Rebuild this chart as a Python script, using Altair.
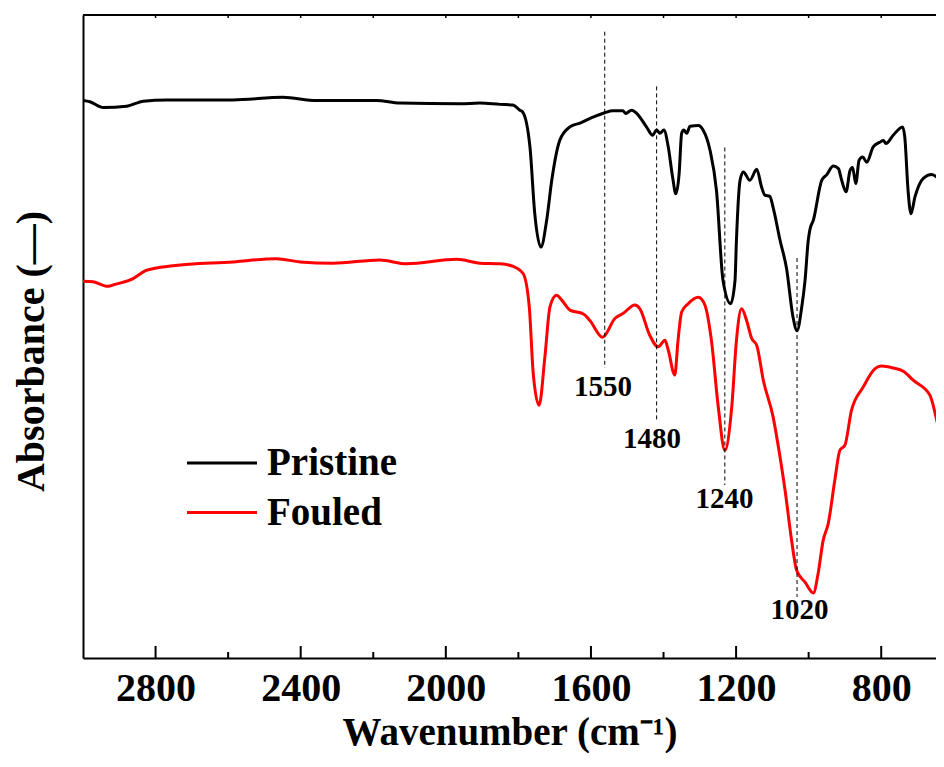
import altair as alt
import pandas as pd

FONT = "Liberation Serif"

# ---- spectra (wavenumber cm-1, absorbance a.u.) ----
wn_pristine = [3000, 2981, 2944, 2880, 2834, 2770, 2587, 2449, 2356, 2191, 2127, 1961, 1906, 1851,
               1815, 1796, 1788, 1768, 1755, 1738, 1722, 1708, 1686, 1658, 1630, 1595, 1562, 1540,
               1512, 1504, 1488, 1474, 1447, 1430, 1419, 1410, 1399, 1387, 1375, 1366, 1357, 1350,
               1344, 1336, 1327, 1304, 1291, 1272, 1254, 1236, 1215, 1203, 1199, 1189, 1180, 1162,
               1143, 1130, 1121, 1107, 1098, 1079, 1061, 1043, 1032, 1019, 1010, 1001, 997, 987,
               964, 951, 932, 918, 909, 897, 886, 879, 870, 861, 851, 840, 822, 804, 794, 787, 767,
               741, 735, 726, 718, 707, 684, 661, 647, 638, 627]
abs_pristine = [86.7, 86.5, 85.6, 85.8, 86.6, 86.8, 86.8, 87.2, 86.7, 86.7, 86.3, 86.2, 86.3, 86.1,
                86.0, 85.2, 84.9, 79.4, 69.2, 63.9, 68.1, 74.3, 80.5, 82.6, 83.2, 84.1, 84.8, 85.1,
                85.1, 84.7, 85.2, 84.7, 82.6, 81.3, 82.1, 81.6, 82.1, 79.5, 74.8, 72.2, 75.3, 81.6,
                82.1, 81.6, 82.7, 82.8, 82.1, 79.0, 72.7, 58.7, 55.1, 58.7, 65.0, 74.3, 75.6, 74.3,
                76.0, 73.3, 72.0, 71.8, 70.1, 65.0, 60.6, 53.0, 50.9, 54.6, 58.7, 65.0, 66.5, 68.1,
                74.3, 75.1, 76.5, 76.1, 74.3, 72.5, 75.8, 76.3, 73.8, 77.4, 77.9, 77.1, 79.5, 80.2,
                80.5, 80.0, 81.3, 82.6, 81.0, 72.7, 69.1, 71.7, 74.6, 75.2, 74.8, 74.3, 74.3]

wn_fouled = [3000, 2972, 2931, 2912, 2862, 2825, 2752, 2586, 2467, 2402, 2311, 2182, 2108, 1970,
             1906, 1851, 1814, 1787, 1770, 1759, 1743, 1727, 1713, 1695, 1681, 1658, 1621, 1603,
             1568, 1534, 1511, 1479, 1465, 1438, 1415, 1396, 1387, 1369, 1360, 1350, 1332, 1304,
             1286, 1268, 1249, 1231, 1212, 1199, 1185, 1171, 1157, 1143, 1125, 1098, 1079, 1065,
             1047, 1033, 1010, 987, 974, 960, 946, 928, 914, 900, 882, 850, 817, 799, 767, 739,
             712, 666, 647, 627]
abs_fouled = [58.6, 58.5, 57.8, 58.1, 59.0, 60.3, 61.0, 61.6, 62.1, 61.6, 61.4, 61.9, 61.3, 62.0,
              61.4, 61.3, 60.9, 59.8, 54.6, 44.2, 39.3, 46.8, 54.6, 56.4, 55.7, 54.1, 53.5, 52.5,
              49.9, 52.8, 53.6, 54.9, 54.3, 50.2, 48.4, 49.4, 47.9, 44.0, 49.4, 53.8, 55.1, 56.1,
              54.9, 49.4, 39.0, 32.3, 39.0, 49.4, 54.3, 52.5, 49.7, 48.6, 43.2, 37.5, 31.3, 26.1,
              18.3, 13.6, 11.8, 10.1, 13.1, 18.3, 20.9, 27.6, 32.3, 33.1, 38.5, 42.1, 45.0, 45.4,
              45.1, 44.6, 43.2, 40.9, 37.0, 31.8]

series_names = ["Pristine", "Fouled"]
series_colors = ["#000000", "#ff0000"]

# ---- axis ticks ----
x_ticks_major = [2800, 2400, 2000, 1600, 1200, 800]
x_ticks_minor = [2600, 2200, 1800, 1400, 1000]
x_ticks_top = [2800, 2600, 2400, 2200, 2000, 1800, 1600, 1400, 1200, 1000, 800]

# ---- peak annotations ----
peak_wn = [1562, 1419, 1231, 1032]
peak_top = [97.4, 88.9, 79.4, 62.2]
peak_bottom = [45.1, 36.7, 26.9, 9.5]
peak_labels = ["1550", "1480", "1240", "1020"]
label_wn = [1567, 1432, 1232, 1025]
label_abs = [42.1, 34.1, 24.8, 7.5]

W, H = 853, 643

xscale = alt.Scale(domain=[3000, 649], nice=False, zero=False)
yscale = alt.Scale(domain=[0, 100], nice=False, zero=False)

xaxis = alt.Axis(values=x_ticks_major, format="d", labelFont=FONT, labelFontSize=40,
                 labelFontWeight="bold", labelColor="black", labelPadding=10,
                 ticks=False, tickSize=0, domainColor="black", domainWidth=2, grid=False,
                 labelFlush=False, labelOverlap=False,
                 title="Wavenumber (cm\u207b\u00b9)", titleFont=FONT, titleFontSize=39,
                 titleFontWeight="bold", titleColor="black", titleY=86,
                 titleBaseline="alphabetic")
yaxis = alt.Axis(labels=False, ticks=False, grid=False, domainColor="black", domainWidth=2,
                 title="Absorbance (\u2014)", titleFont=FONT, titleFontSize=40,
                 titleFontWeight="bold", titleColor="black", titleX=-40, titleY=336,
                 titleAngle=270, titleBaseline="alphabetic", titleAlign="center")


def X():
    return alt.X("w:Q", scale=xscale, axis=xaxis)


def Y():
    return alt.Y("v:Q", scale=yscale, axis=yaxis)


spec_df = pd.concat([
    pd.DataFrame({"w": wn_pristine, "v": abs_pristine, "s": series_names[0]}),
    pd.DataFrame({"w": wn_fouled, "v": abs_fouled, "s": series_names[1]}),
])

lines = alt.Chart(spec_df).mark_line(strokeWidth=3, interpolate="monotone", clip=True).encode(
    x=X(),
    y=Y(),
    color=alt.Color("s:N", scale=alt.Scale(domain=series_names, range=series_colors), legend=None),
    order=alt.Order("w:Q", sort="descending"),
)

peak_df = pd.DataFrame({"w": peak_wn, "v": peak_top, "v2": peak_bottom})
dashes = alt.Chart(peak_df).mark_rule(color="black", strokeWidth=1, strokeDash=[4, 3]).encode(
    x=X(), y=Y(), y2="v2:Q",
)

lab_df = pd.DataFrame({"w": label_wn, "v": label_abs, "t": peak_labels})
labels = alt.Chart(lab_df).mark_text(font=FONT, fontSize=29, fontWeight="bold", color="black",
                                     align="center", baseline="middle").encode(
    x=X(), y=Y(), text="t:N",
)

major = alt.Chart(pd.DataFrame({"w": x_ticks_major})).mark_rule(color="black", strokeWidth=2).encode(
    x=X(), y=alt.value(H), y2=alt.value(H - 12))
minor = alt.Chart(pd.DataFrame({"w": x_ticks_minor})).mark_rule(color="black", strokeWidth=2).encode(
    x=X(), y=alt.value(H), y2=alt.value(H - 6))
top = alt.Chart(pd.DataFrame({"w": x_ticks_top})).mark_rule(color="black", strokeWidth=1.5).encode(
    x=X(), y=alt.value(0), y2=alt.value(3))
top_border = alt.Chart(pd.DataFrame({"w": [0]})).mark_rule(color="black", strokeWidth=2).encode(
    x=alt.value(0), x2=alt.value(W), y=alt.value(0))

legend_layers = []
leg_y = [448, 497.5]
for name, col, ly in zip(series_names, series_colors, leg_y):
    d = pd.DataFrame({"s": [name]})
    legend_layers.append(alt.Chart(d).mark_rule(color=col, strokeWidth=3).encode(
        x=alt.value(104), x2=alt.value(174), y=alt.value(ly)))
    legend_layers.append(alt.Chart(d).mark_text(font=FONT, fontSize=39, fontWeight="bold",
                                                color="black", align="left", baseline="middle").encode(
        x=alt.value(184), y=alt.value(ly), text="s:N"))

chart = alt.layer(lines, dashes, labels, major, minor, top, top_border, *legend_layers).properties(
    width=W, height=H,
    padding={"left": 75, "top": 7, "right": 0, "bottom": 95},
    autosize=alt.AutoSizeParams(type="none"),
).configure_view(stroke=None)

chart.save("out.html", embed_options={"renderer": "svg", "actions": False})
